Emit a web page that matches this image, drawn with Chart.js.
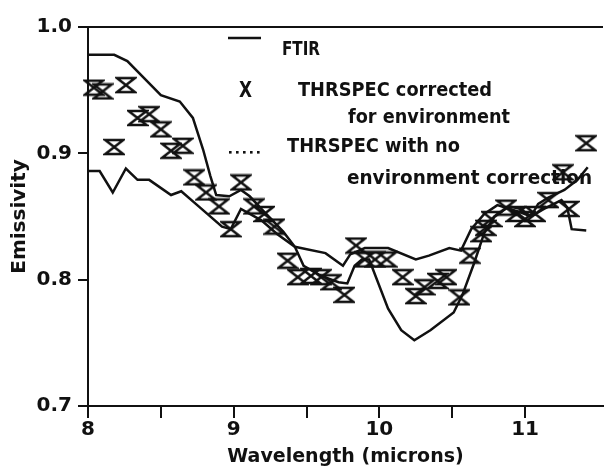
<!DOCTYPE html>
<html>
<head>
<meta charset="utf-8">
<title>Emissivity</title>
<script src="https://cdn.jsdelivr.net/npm/chart.js@4.4.1/dist/chart.umd.min.js"></script>
<style>
  html, body { margin: 0; padding: 0; background: #fff; }
</style>
</head>
<body>
<canvas id="emisChart" width="613" height="472"></canvas>
<script>
// FTIR spectrum (solid, the one with the deep dip near 10.2 um)
const ftirWavelength = [8.00, 8.18, 8.27, 8.50, 8.63, 8.72, 8.79, 8.84, 8.88, 8.97, 9.05, 9.11, 9.19, 9.34, 9.42,
  9.48, 9.60, 9.72, 9.78, 9.83, 9.88, 9.93, 10.06, 10.15, 10.24, 10.35, 10.51, 10.57, 10.65, 10.72, 10.79,
  10.89, 10.97, 11.04, 11.13, 11.25, 11.29, 11.32, 11.42];
const ftirEmissivity = [0.978, 0.978, 0.973, 0.946, 0.941, 0.928, 0.903, 0.882, 0.867, 0.866, 0.871, 0.866, 0.856, 0.838, 0.826,
  0.811, 0.803, 0.798, 0.797, 0.811, 0.816, 0.816, 0.777, 0.760, 0.752, 0.760, 0.774, 0.788, 0.813, 0.837, 0.850,
  0.858, 0.856, 0.850, 0.856, 0.863, 0.857, 0.840, 0.839];

// THRSPEC with no environment correction
const rawWavelength = [8.00, 8.08, 8.17, 8.26, 8.34, 8.42, 8.57, 8.64, 8.74, 8.92, 8.98, 9.05, 9.19, 9.30, 9.42,
  9.63, 9.75, 9.80, 9.90, 10.06, 10.25, 10.34, 10.48, 10.56, 10.63, 10.72, 10.81, 10.95, 11.04, 11.09,
  11.16, 11.27, 11.36, 11.43];
const rawEmissivity = [0.886, 0.886, 0.869, 0.888, 0.879, 0.879, 0.867, 0.870, 0.860, 0.842, 0.840, 0.856, 0.847, 0.836, 0.826,
  0.821, 0.811, 0.820, 0.825, 0.825, 0.816, 0.819, 0.825, 0.823, 0.840, 0.852, 0.859, 0.854, 0.850, 0.860,
  0.865, 0.871, 0.879, 0.889];

// THRSPEC corrected for environment (markers)
const corrWavelength = [8.04, 8.10, 8.18, 8.26, 8.34, 8.42, 8.50, 8.57, 8.65, 8.73, 8.81, 8.90, 8.98, 9.05, 9.14,
  9.21, 9.28, 9.37, 9.44, 9.53, 9.60, 9.67, 9.76, 9.84, 9.90, 9.97, 10.05, 10.16, 10.25, 10.31,
  10.40, 10.46, 10.55, 10.62, 10.70, 10.73, 10.77, 10.87, 10.94, 11.00, 11.07, 11.16, 11.26, 11.30, 11.42];
const corrEmissivity = [0.952, 0.949, 0.905, 0.954, 0.928, 0.931, 0.919, 0.902, 0.906, 0.881, 0.869, 0.858, 0.840, 0.877, 0.858,
  0.852, 0.842, 0.815, 0.802, 0.803, 0.802, 0.798, 0.788, 0.827, 0.816, 0.816, 0.816, 0.802, 0.787, 0.794,
  0.799, 0.802, 0.786, 0.819, 0.836, 0.841, 0.848, 0.857, 0.852, 0.848, 0.852, 0.863, 0.885, 0.856, 0.908];

const xTicks = [8, 8.5, 9, 9.5, 10, 10.5, 11];
const yTicks = [0.7, 0.8, 0.9, 1.0];

const ink = '#111';
const pts = (xs, ys) => xs.map((x, i) => ({ x: x, y: ys[i] }));

// hourglass marker used for the corrected series
function hourglass(){
  const c = document.createElement('canvas');
  c.width = 22; c.height = 18;
  const g = c.getContext('2d');
  g.strokeStyle = ink;
  g.lineWidth = 2.6;
  g.lineJoin = 'miter';
  g.beginPath();
  g.moveTo(2, 2); g.lineTo(20, 2); g.lineTo(2, 16); g.lineTo(20, 16); g.closePath();
  g.stroke();
  return c;
}

// key is drawn inside the plot, like the original
const keyText = [
  ['FTIR', 282, 55, 38],
  ['THRSPEC corrected', 298, 96, 194],
  ['for environment', 348, 123, 162],
  ['THRSPEC with no', 287, 152, 173],
  ['environment correction', 347, 184, 245]
];

const frameAndKey = {
  id: 'frameAndKey',
  afterDraw(chart){
    const { ctx, chartArea: a } = chart;
    ctx.save();
    ctx.strokeStyle = ink;
    ctx.fillStyle = ink;
    ctx.lineWidth = 2;
    ctx.beginPath(); ctx.moveTo(a.left, a.top); ctx.lineTo(a.right, a.top); ctx.stroke();

    ctx.lineWidth = 2.5;
    ctx.beginPath(); ctx.moveTo(228, 38); ctx.lineTo(261, 38); ctx.stroke();
    for (let i = 0; i < 5; i++) ctx.fillRect(229 + i * 7, 151, 2.6, 2.6);

    ctx.textBaseline = 'alphabetic';
    ctx.font = 'bold 22px "DejaVu Sans"';
    let m = ctx.measureText('X').width;
    ctx.save(); ctx.translate(239, 97); ctx.scale(13 / m, 1); ctx.fillText('X', 0, 0); ctx.restore();

    ctx.font = 'bold 20px "DejaVu Sans"';
    keyText.forEach(([t, x, y, w]) => {
      const mw = ctx.measureText(t).width;
      ctx.save(); ctx.translate(x, y); ctx.scale(w / mw, 1); ctx.fillText(t, 0, 0); ctx.restore();
    });
    ctx.restore();
  }
};

const tickFont = { family: 'DejaVu Sans', size: 20, weight: 'bold' };

new Chart(document.getElementById('emisChart'), {
  type: 'scatter',
  data: {
    datasets: [
      {
        label: 'FTIR',
        data: pts(ftirWavelength, ftirEmissivity),
        showLine: true, borderColor: ink, borderWidth: 2.5, pointRadius: 0, tension: 0
      },
      {
        label: 'THRSPEC with no environment correction',
        data: pts(rawWavelength, rawEmissivity),
        showLine: true, borderColor: ink, borderWidth: 2.5, pointRadius: 0, tension: 0
      },
      {
        label: 'THRSPEC corrected for environment',
        data: pts(corrWavelength, corrEmissivity),
        showLine: false, pointStyle: hourglass(), pointRadius: 9, clip: false
      }
    ]
  },
  options: {
    responsive: false,
    animation: false,
    devicePixelRatio: 1,
    layout: { padding: { top: 27, right: 0, left: 0, bottom: 0 } },
    plugins: { legend: { display: false }, tooltip: { enabled: false } },
    scales: {
      x: {
        type: 'linear', min: 8, max: 11.535,
        afterBuildTicks: s => { s.ticks = xTicks.map(v => ({ value: v })); },
        afterFit: s => { s.height = 66; },
        ticks: {
          autoSkip: false, maxRotation: 0, padding: 0, color: ink, font: tickFont,
          callback: v => Number.isInteger(v) ? String(v) : ''
        },
        grid: { drawOnChartArea: false, drawTicks: true, tickLength: 12, color: ink, lineWidth: 2 },
        border: { display: true, color: ink, width: 2 },
        title: {
          display: true, text: 'Wavelength (microns)', color: ink,
          font: { family: 'DejaVu Sans', size: 19, weight: 'bold' }, padding: { top: 0, bottom: 4 }
        }
      },
      y: {
        min: 0.7, max: 1.0,
        afterBuildTicks: s => { s.ticks = yTicks.map(v => ({ value: v })); },
        afterFit: s => { s.width = 88; },
        ticks: { padding: 6, color: ink, font: tickFont, callback: v => v.toFixed(1) },
        grid: { drawOnChartArea: false, drawTicks: true, tickLength: 10, color: ink, lineWidth: 2 },
        border: { display: true, color: ink, width: 2 },
        title: {
          display: true, text: 'Emissivity', color: ink,
          font: { family: 'DejaVu Sans', size: 20, weight: 'bold' }, padding: { top: 8, bottom: 0 }
        }
      }
    }
  },
  plugins: [frameAndKey]
});
</script>
</body>
</html>
